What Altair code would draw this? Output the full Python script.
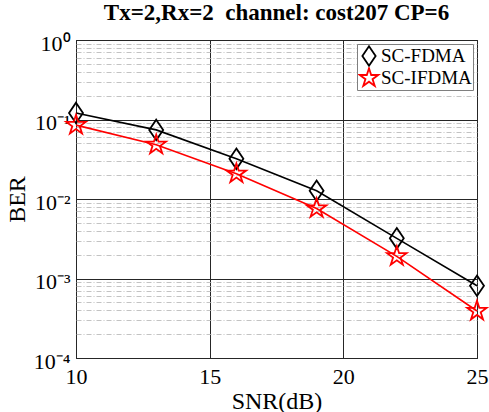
import json
import altair as alt
import pandas as pd

# ---- data ----
snr = [10, 13, 16, 19, 22, 25]
ber_fdma = [0.121, 0.074, 0.032, 0.0127, 0.0032, 0.00081]
ber_ifdma = [0.085, 0.048, 0.0208, 0.0076, 0.0019, 0.00039]
series_names = ["SC-FDMA", "SC-IFDMA"]
decade_exps = [0, -1, -2, -3, -4]
x_ticks = [10, 15, 20, 25]

FONT = "Liberation Serif"
DIAMOND = "M0,-1L0.68,0L0,1L-0.68,0Z"
STAR = ("M0,-1L0.2245,-0.309L0.951,-0.309L0.3633,0.118L0.588,0.809L0,0.382"
        "L-0.588,0.809L-0.3633,0.118L-0.951,-0.309L-0.2245,-0.309Z")

df = pd.DataFrame({
    "snr": snr + snr,
    "ber": ber_fdma + ber_ifdma,
    "series": [series_names[0]] * len(snr) + [series_names[1]] * len(snr),
})

decades = [10.0 ** e for e in decade_exps]
minor_vals = [m * 10.0 ** e for e in range(-4, 0) for m in range(2, 10)]
SUPMAP = str.maketrans("-0123456789", "⁻⁰¹²³⁴⁵⁶⁷⁸⁹")
sup_labels = [str(e).translate(SUPMAP) for e in decade_exps]

LOG10 = "(log(datum.value)/LN10)"
IS_MAJOR = f"abs({LOG10} - round({LOG10})) < 0.001"
label_expr = (f"({IS_MAJOR}) ? '10' + {json.dumps(sup_labels, ensure_ascii=False)}"
              f"[-round({LOG10})] : ''")

xscale = alt.Scale(domain=[10, 25], nice=False, zero=False)
yscale = alt.Scale(type="log", domain=[1e-4, 1], nice=False)
color_scale = alt.Scale(domain=series_names, range=["#000000", "#ff0000"])
shape_scale = alt.Scale(domain=series_names, range=[DIAMOND, STAR])

xaxis = alt.Axis(values=x_ticks, ticks=False, domain=False, grid=True,
                 gridColor="#262626", gridWidth=1, labelFlush=False,
                 labelFont=FONT, labelFontSize=22, labelColor="black",
                 labelPadding=8,
                 title="SNR(dB)", titleFont=FONT, titleFontSize=24,
                 titleFontWeight="normal", titleColor="black",
                 titlePadding=2)
yaxis = alt.Axis(values=decades + minor_vals, ticks=False, domain=False, grid=True,
                 gridColor={"condition": {"test": IS_MAJOR, "value": "#262626"},
                            "value": "#b4b4b4"},
                 gridDash={"condition": {"test": IS_MAJOR, "value": []},
                           "value": [5, 2, 1, 2]},
                 gridWidth={"condition": {"test": IS_MAJOR, "value": 1},
                            "value": 0.8},
                 labelExpr=label_expr, labelFlush=False, labelOverlap=False,
                 labelFont=FONT, labelFontSize=22, labelColor="black",
                 labelPadding=6, labelOffset=3,
                 title="BER", titleFont=FONT, titleFontSize=24,
                 titleFontWeight="normal", titleColor="black",
                 titlePadding=4)

base = alt.Chart(df).encode(
    x=alt.X("snr:Q", scale=xscale, axis=xaxis),
    y=alt.Y("ber:Q", scale=yscale, axis=yaxis),
    color=alt.Color("series:N", scale=color_scale, title=None),
)

lines = base.mark_line(strokeWidth=1.6)
points = base.mark_point(filled=False, strokeWidth=1.8, opacity=1, size=420).encode(
    shape=alt.Shape("series:N", scale=shape_scale, title=None),
)

chart = alt.layer(lines, points).properties(
    width=401, height=318,
    autosize=alt.AutoSizeParams(type="none"),
    padding={"left": 76, "top": 40, "right": 12, "bottom": 54},
    title=alt.TitleParams("Tx=2,Rx=2\u00a0\u00a0channel: cost207 CP=6", font=FONT,
                          fontSize=23, fontWeight="bold", color="black", offset=7,
                          anchor="middle"),
    background="white",
).configure_view(
    stroke="black", strokeWidth=1
).configure_legend(
    orient="top-right", offset=4, padding=1, strokeColor="#7f7f7f", fillColor="white",
    labelFont=FONT, labelFontSize=19, labelColor="black", labelOffset=1,
    symbolStrokeWidth=1.8, symbolSize=380, rowPadding=0, cornerRadius=0,
    clipHeight=22,
)

chart.save("out.html", embed_options={"renderer": "svg", "actions": False})
